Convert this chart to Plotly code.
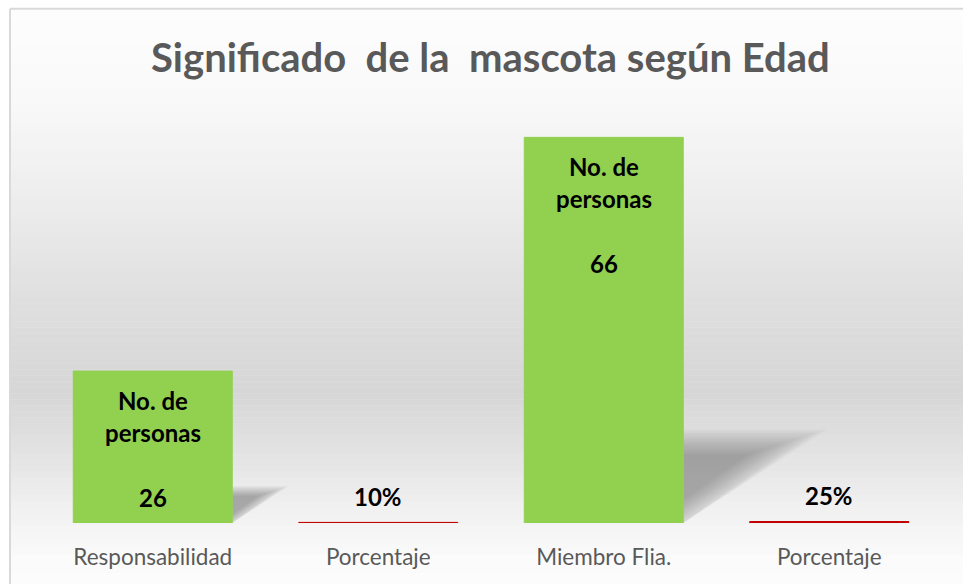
import plotly.graph_objects as go

# ---- data ----
categories = ["Responsabilidad", "Porcentaje", "Miembro Flia.", "Porcentaje "]
tick_labels = ["Responsabilidad", "Porcentaje", "Miembro Flia.", "Porcentaje"]
values = [26, 0.10, 66, 0.25]
kinds = ["count", "pct", "count", "pct"]
series_name = "No. de personas"
title_text = "Significado\u00a0 de la\u00a0 mascota según Edad"

GREEN = "#92d050"
RED = "#c00000"
colors = [GREEN if k == "count" else RED for k in kinds]

RW, RH = 963, 584
W, H = RW, RH
ML, MR = 40, 21
MT, MB = 113.5, 61
PW, PH = W - ML - MR, H - MT - MB


def py2p(py):  # reference pixel y -> paper
    return 1 - (py - MT) / PH


def px2p(px):  # reference pixel x -> paper
    return (px - ML) / PW


fig = go.Figure()
fig.add_trace(go.Bar(
    x=categories, y=values,
    marker=dict(color=colors, line=dict(color=colors, width=1)),
    width=0.705,
    hoverinfo="x+y",
    showlegend=False,
))

shapes = []
shapes.append(dict(type="rect", xref="paper", yref="paper", layer="below",
                   x0=px2p(0), x1=px2p(RW + 20), y0=py2p(RH + 20), y1=py2p(0),
                   fillcolor="white", line=dict(width=0)))

# background gradient bands (decoration)
stops = [(9, 253), (100, 249), (200, 237), (300, 223), (390, 214),
         (450, 226), (510, 241), (560, 251), (590, 252)]


def shade(py):
    for (a, ca), (b, cb) in zip(stops, stops[1:]):
        if a <= py <= b:
            t = (py - a) / (b - a)
            return round(ca + (cb - ca) * t)
    return stops[-1][1]


step = 6
py = 9
while py < RH + 4:
    c = shade(py + step / 2)
    shapes.append(dict(type="rect", xref="paper", yref="paper", layer="below",
                       x0=px2p(11), x1=px2p(RW + 20),
                       y0=py2p(py + step + 0.6), y1=py2p(py),
                       fillcolor=f"rgb({c},{c},{c})", line=dict(width=0)))
    py += step

# border lines
shapes.append(dict(type="line", xref="paper", yref="paper", layer="below",
                   x0=px2p(10), x1=px2p(RW + 20), y0=py2p(8), y1=py2p(8),
                   line=dict(color="#d9d9d9", width=2)))
shapes.append(dict(type="line", xref="paper", yref="paper", layer="below",
                   x0=px2p(10), x1=px2p(10), y0=py2p(8), y1=py2p(RH + 20),
                   line=dict(color="#d9d9d9", width=2)))

# soft cast shadows for the count bars (decoration)
half = 0.705 / 2
for i, (v, k) in enumerate(zip(values, kinds)):
    if k != "count":
        continue
    x0 = i + half
    hgt = v * 0.225
    wid = v * 0.0082
    cx, cy = x0, hgt * 0.55
    n = 14
    for j in range(n):
        s = 1.18 - j * 0.05
        ax, ay = cx + (x0 - cx) * s, cy + (hgt - cy) * s
        bx, by = cx + (x0 + wid - cx) * s, cy + (hgt - cy) * s
        qx, qy = cx + (x0 - cx) * s, cy + (0 - cy) * s
        path = f"M {ax},{ay} L {bx},{by} L {qx},{max(qy, 0)} Z"
        shapes.append(dict(type="path", xref="x", yref="y", layer="below",
                           path=path, fillcolor="rgba(100,100,100,0.042)",
                           line=dict(width=0)))

annotations = []
lab_font = dict(family="Lato", size=24, color="black")
for i, (v, k) in enumerate(zip(values, kinds)):
    if k == "count":
        w1, w2 = series_name.split(" de ")
        for txt, ys in [(w1 + " de", -29), (w2, -61), (str(v), -126)]:
            annotations.append(dict(x=categories[i], y=v, xref="x", yref="y",
                                    text=f"<b>{txt}</b>", showarrow=False,
                                    yanchor="middle", yshift=ys, font=lab_font))
    else:
        annotations.append(dict(x=categories[i], y=v, xref="x", yref="y",
                                text=f"<b>{round(v * 100)}%</b>", showarrow=False,
                                yanchor="middle", yshift=26, font=lab_font))

annotations.append(dict(x=px2p(490), y=py2p(56), xref="paper", yref="paper",
                        text=f"<b>{title_text}</b>",
                        showarrow=False, xanchor="center", yanchor="middle",
                        font=dict(family="Lato", size=40, color="#595959")))

fig.update_layout(
    width=W, height=H,
    margin=dict(l=ML, r=MR, t=MT, b=MB, pad=0),
    paper_bgcolor="white",
    plot_bgcolor="rgba(0,0,0,0)",
    shapes=shapes,
    annotations=annotations,
    xaxis=dict(type="category", tickmode="array", tickvals=categories, ticktext=tick_labels,
               showgrid=False, showline=False, zeroline=False, ticks="",
               tickfont=dict(family="Lato", size=22.5, color="#595959"),
               ticklabelstandoff=18, range=[-0.5, 3.5]),
    yaxis=dict(range=[0, 70], visible=False, showgrid=False, zeroline=False),
    bargap=0.295,
    font=dict(family="Lato"),
)

fig.write_html(
    "out.html",
    config={"displayModeBar": False},
    post_script="document.body.style.margin='0';document.body.style.overflow='hidden';",
)
